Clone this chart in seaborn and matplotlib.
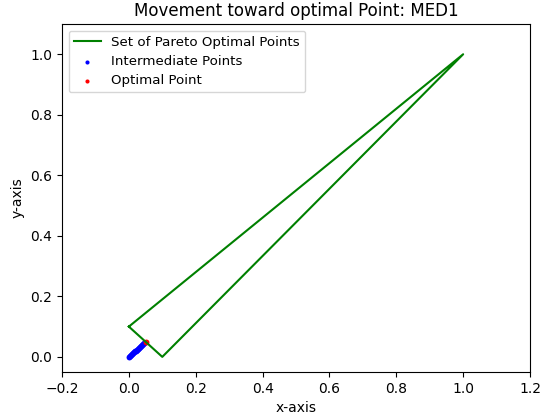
import matplotlib
matplotlib.use("Agg")
import matplotlib.pyplot as plt
import seaborn as sns
import pandas as pd

# Pareto set boundary (triangle)
pareto_x = [0.0, 0.1, 1.0, 0.0]
pareto_y = [0.1, 0.0, 1.0, 0.1]

# Intermediate points
inter_x = [0.000, 0.003, 0.006, 0.009, 0.012, 0.015, 0.018, 0.021, 0.024, 0.027, 0.030, 0.033, 0.036, 0.039, 0.042, 0.045]
inter_y = [0.000, 0.003, 0.006, 0.009, 0.012, 0.015, 0.018, 0.021, 0.024, 0.027, 0.030, 0.033, 0.036, 0.039, 0.042, 0.045]

# Optimal point
opt_x = [0.05]
opt_y = [0.05]

fig = plt.figure(figsize=(5.47, 4.19), dpi=100)
ax = fig.add_axes([62/547, 1-372/419, (530-62)/547, (372-24)/419])

df_p = pd.DataFrame({"x": pareto_x, "y": pareto_y})
sns.lineplot(data=df_p, x="x", y="y", sort=False, estimator=None, color="green",
             linewidth=1.5, ax=ax, label="Set of Pareto Optimal Points")
df_i = pd.DataFrame({"x": inter_x, "y": inter_y})
sns.scatterplot(data=df_i, x="x", y="y", color="blue", s=18, linewidth=0, ax=ax,
                label="Intermediate Points")
df_o = pd.DataFrame({"x": opt_x, "y": opt_y})
sns.scatterplot(data=df_o, x="x", y="y", color="red", s=18, linewidth=0, ax=ax,
                label="Optimal Point")

ax.set_xlim(-0.2, 1.2)
ax.set_ylim(-0.05, 1.1)
ax.set_xlabel("x-axis")
ax.set_ylabel("y-axis")
ax.set_title("Movement toward optimal Point: MED1")
leg = ax.legend(loc="upper left", fontsize=9.6, markerscale=0.7, labelspacing=0.45)

fig.savefig("out.png", dpi=100)
